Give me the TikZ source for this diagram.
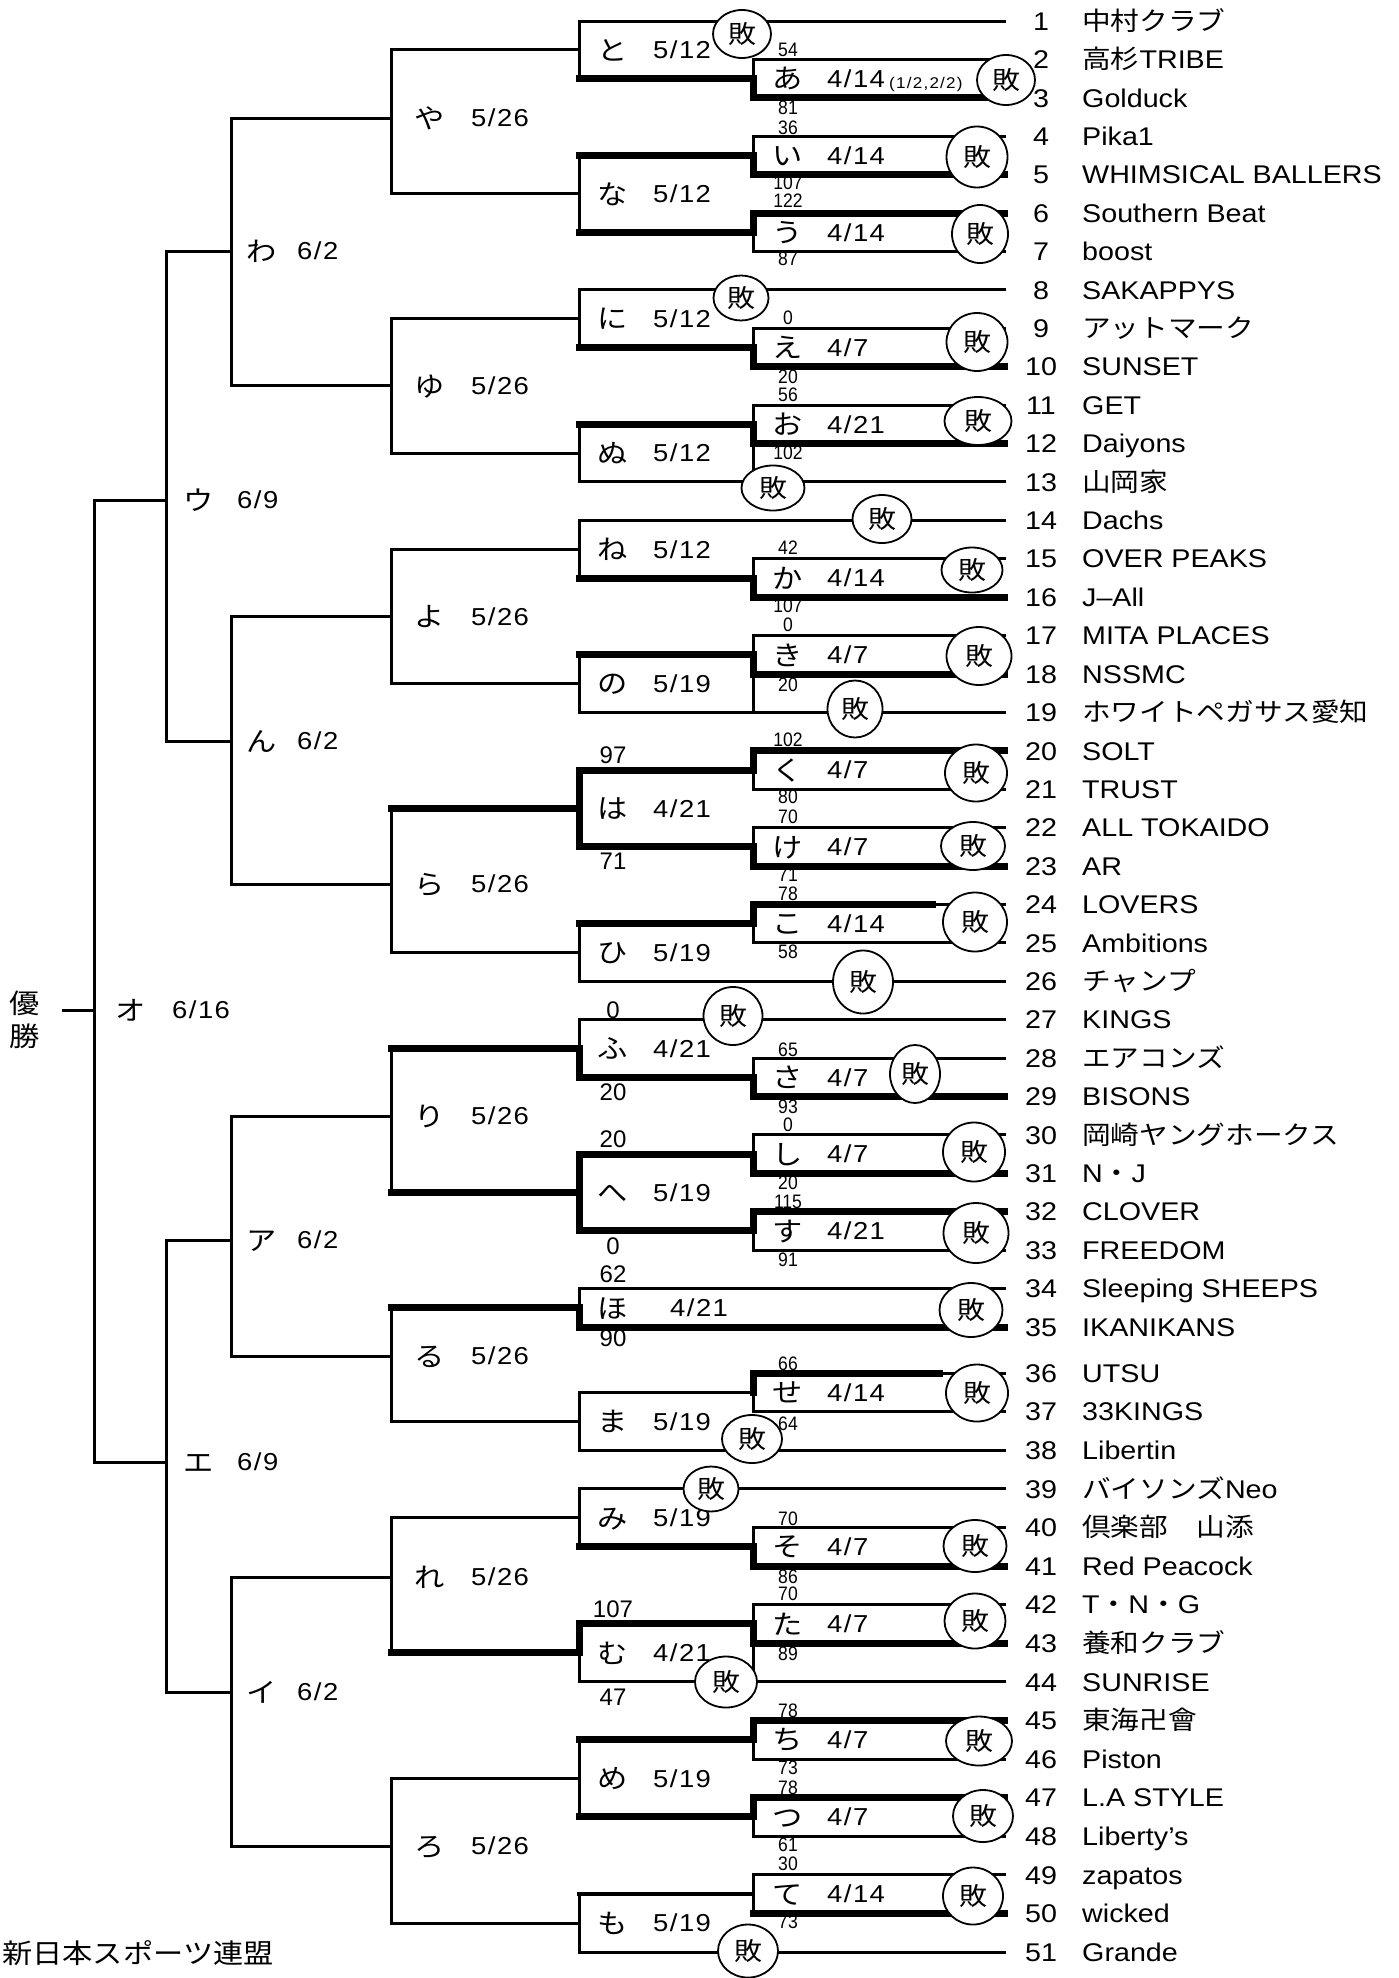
\documentclass[tikz,border=0pt]{standalone}
\usepackage{fontspec}
\setmainfont{Liberation Sans}[FakeStretch=1.12]
\newfontfamily\jp{Noto Sans CJK JP}[FakeStretch=1.12]
\newfontfamily\datef{Liberation Sans}[FakeStretch=1.12,LetterSpace=6]
\newfontfamily\scf{Liberation Sans}[FakeStretch=0.9]
\newfontfamily\sclf{Liberation Sans}
\newfontfamily\tinyf{Liberation Sans}[FakeStretch=1.1,LetterSpace=8]
\usetikzlibrary{shapes.geometric}
\tikzset{
 x=1pt, y=-1pt,
 lnthin/.style={line width=3pt, line join=miter, line cap=rect},
 lnthick/.style={line width=7pt, line join=miter, line cap=rect},
 lnmid/.style={line width=4.5pt, line cap=rect},
 lose/.style={ellipse, draw, line width=1.8pt, fill=white, inner sep=0pt, font={\jp\fontsize{25}{28}\selectfont}},
 numst/.style={anchor=base, inner sep=0pt, font={\fontsize{25.6}{28}\selectfont}},
 namest/.style={anchor=base west, inner sep=0pt, font={\fontsize{25.6}{28}\selectfont}},
 kanast/.style={anchor=base, inner sep=0pt, font={\jp\fontsize{27}{30}\selectfont}},
 datest/.style={anchor=base west, inner sep=0pt, font={\datef\fontsize{24.5}{28}\selectfont}},
 scs/.style={inner sep=0pt, font={\scf\fontsize{19.5}{21}\selectfont}},
 scl/.style={inner sep=0pt, font={\sclf\fontsize{24}{26}\selectfont}},
 bigjp/.style={inner sep=0pt, font={\jp\fontsize{27}{30}\selectfont}},
}
\newcommand\teamrow[3]{\node[numst] (n#1) at (1041,{#2+9.2}) {#1}; \node[namest] (t#1) at (1082,{#2+9.2}) {#3};}
\newcommand\matchlbl[6]{\node[kanast] (k#1) at (#2,{#4+10.2}) {#5}; \node[datest] (d#1) at (#3,{#4+8.8}) {#6};}
\newcommand\loss[5]{\node[lose, minimum width=#4pt, minimum height=#5pt] (#1) at (#2,#3) {敗};}
\begin{document}
\begin{tikzpicture}
\fill[white] (0,0) rectangle (1399,1978);
\useasboundingbox (0,0) rectangle (1399,1978);
% ---------- upper rounds (thin)
\draw[lnthin] (63,1010) -- (94,1010);
\draw[lnthin] (166,500) -- (94,500) -- (94,1462) -- (166,1462);
\draw[lnthin] (231,251) -- (166,251) -- (166,741) -- (231,741);
\draw[lnthin] (231,1240) -- (166,1240) -- (166,1692) -- (231,1692);
\draw[lnthin] (391,118) -- (231,118) -- (231,385.9) -- (391,385.9);
\draw[lnthin] (391,616.4) -- (231,616.4) -- (231,884) -- (391,884);
\draw[lnthin] (391,1116) -- (231,1116) -- (231,1356) -- (391,1356);
\draw[lnthin] (391,1577) -- (231,1577) -- (231,1846) -- (391,1846);
% C3
\draw[lnthin] (579,49.8) -- (391,49.8) -- (391,193.9) -- (579,193.9);
\draw[lnthin] (579,318.7) -- (391,318.7) -- (391,453.1) -- (579,453.1);
\draw[lnthin] (579,549.2) -- (391,549.2) -- (391,683.6) -- (579,683.6);
\draw[lnthin] (391,808.4) -- (391,952.5) -- (579,952.5);
\draw[lnthin] (391,1048.5) -- (391,1192.5);
\draw[lnthin] (391,1307.8) -- (391,1421.3) -- (579,1421.3);
\draw[lnthin] (579,1517.8) -- (391,1517.8) -- (391,1652.9);
\draw[lnthin] (579,1778.3) -- (391,1778.3) -- (391,1923.1) -- (579,1923.1);
% C2 thin
\draw[lnthin] (1004,21) -- (579,21) -- (579,78.6);
\draw[lnthin] (579,155.4) -- (579,232.3);
\draw[lnthin] (1004,289.9) -- (579,289.9) -- (579,347.5);
\draw[lnthin] (579,424.3) -- (579,481.9) -- (1004,481.9);
\draw[lnthin] (753,443.5) -- (753,481.9);
\draw[lnthin] (1004,520.3) -- (579,520.3) -- (579,578);
\draw[lnthin] (579,654.8) -- (579,712.4) -- (1004,712.4);
\draw[lnthin] (753,674) -- (753,712.4);
\draw[lnthin] (579,923.6) -- (579,981.3) -- (1004,981.3);
\draw[lnthin] (932,904.4) -- (1004,904.4);
\draw[lnthin] (1004,1019.7) -- (579,1019.7) -- (579,1048.5);
\draw[lnthin] (1004,1288.5) -- (579,1288.5) -- (579,1307.8);
\draw[lnthin] (753,1392.3) -- (579,1392.3) -- (579,1450.2) -- (1004,1450.2);
\draw[lnthin] (939,1373) -- (1004,1373);
\draw[lnthin] (1004,1488.8) -- (579,1488.8) -- (579,1546.7);
\draw[lnthin] (579,1652.9) -- (579,1681.8) -- (1004,1681.8);
\draw[lnthin] (753,1643.2) -- (753,1681.8);
\draw[lnthin] (579,1739.7) -- (579,1816.9);
\draw[lnthin] (579,1894.1) -- (579,1952) -- (1004,1952);
% C1 thin
\draw[lnthin] (1004,59.4) -- (753,59.4) -- (753,78.6);
\draw[lnthin] (1004,136.2) -- (753,136.2) -- (753,155.4);
\draw[lnthin] (753,232.3) -- (753,251.5) -- (1004,251.5);
\draw[lnthin] (1004,328.3) -- (753,328.3) -- (753,347.5);
\draw[lnthin] (1004,405.1) -- (753,405.1) -- (753,424.3);
\draw[lnthin] (1004,558.7) -- (753,558.7) -- (753,578);
\draw[lnthin] (1004,635.6) -- (753,635.6) -- (753,654.8);
\draw[lnthin] (753,770) -- (753,789.2) -- (1004,789.2);
\draw[lnthin] (1004,827.6) -- (753,827.6) -- (753,846.8);
\draw[lnthin] (753,923.6) -- (753,942.8) -- (1004,942.8);
\draw[lnthin] (1004,1058.1) -- (753,1058.1) -- (753,1077.3);
\draw[lnthin] (1004,1134.9) -- (753,1134.9) -- (753,1154.1);
\draw[lnthin] (753,1230.9) -- (753,1250.1) -- (1004,1250.1);
\draw[lnthin] (753,1392.3) -- (753,1411.6) -- (1004,1411.6);
\draw[lnthin] (1004,1527.4) -- (753,1527.4) -- (753,1546.7);
\draw[lnthin] (1004,1604.6) -- (753,1604.6) -- (753,1623.9);
\draw[lnthin] (753,1739.7) -- (753,1759) -- (1004,1759);
\draw[lnthin] (753,1816.9) -- (753,1836.2) -- (1004,1836.2);
\draw[lnthin] (1004,1874.8) -- (753,1874.8) -- (753,1913.4);
% ---------- thick (winner paths)
\draw[lnthick] (579,78.6) -- (753,78.6) -- (753,97.8) -- (1004,97.8);
\draw[lnthick] (579,155.4) -- (753,155.4) -- (753,174.6) -- (1004,174.6);
\draw[lnthick] (579,232.3) -- (753,232.3) -- (753,213.1) -- (1004,213.1);
\draw[lnthick] (579,347.5) -- (753,347.5) -- (753,366.7) -- (1004,366.7);
\draw[lnthick] (579,424.3) -- (753,424.3) -- (753,443.5) -- (1004,443.5);
\draw[lnthick] (579,578) -- (753,578) -- (753,597.2) -- (1004,597.2);
\draw[lnthick] (579,654.8) -- (753,654.8) -- (753,674) -- (1004,674);
\draw[lnthick] (1004,750.8) -- (753,750.8) -- (753,770) -- (579,770) -- (579,846.8) -- (753,846.8) -- (753,866) -- (1004,866);
\draw[lnthick] (391,808.4) -- (579,808.4);
\draw[lnthick] (579,923.6) -- (753,923.6) -- (753,904.4) -- (932,904.4);
\draw[lnthick] (391,1048.5) -- (579,1048.5) -- (579,1077.3) -- (753,1077.3) -- (753,1096.5) -- (1004,1096.5);
\draw[lnthick] (1004,1173.3) -- (753,1173.3) -- (753,1154.1) -- (579,1154.1) -- (579,1230.9) -- (753,1230.9) -- (753,1211.7) -- (1004,1211.7);
\draw[lnthick] (391,1192.5) -- (579,1192.5);
\draw[lnthick] (391,1307.8) -- (579,1307.8) -- (579,1327) -- (1004,1327);
\draw[lnthick] (753,1392.3) -- (753,1373) -- (939,1373);
\draw[lnthick] (579,1546.7) -- (753,1546.7) -- (753,1566) -- (1004,1566);
\draw[lnthick] (391,1652.9) -- (579,1652.9) -- (579,1623.9) -- (753,1623.9) -- (753,1643.2) -- (1004,1643.2);
\draw[lnthick] (1004,1720.4) -- (753,1720.4) -- (753,1739.7) -- (579,1739.7);
\draw[lnthick] (1004,1797.6) -- (753,1797.6) -- (753,1816.9) -- (579,1816.9);
\draw[lnthick] (753,1913.4) -- (1004,1913.4);
\draw[lnmid] (579,1894.1) -- (753,1894.1);
% ---------- match labels
\matchlbl{a}{788}{827}{78.6}{あ}{4/14}
\node[inner sep=0pt, anchor=west, font={\tinyf\fontsize{15.5}{17}\selectfont}] (asub) at (889,84) {(1/2,2/2)};
\matchlbl{i}{788}{827}{155.4}{い}{4/14}
\matchlbl{u}{788}{827}{232.3}{う}{4/14}
\matchlbl{e}{788}{827}{347.5}{え}{4/7}
\matchlbl{o}{788}{827}{424.3}{お}{4/21}
\matchlbl{ka}{788}{827}{578}{か}{4/14}
\matchlbl{ki}{788}{827}{654.8}{き}{4/7}
\matchlbl{ku}{788}{827}{770}{く}{4/7}
\matchlbl{ke}{788}{827}{846.8}{け}{4/7}
\matchlbl{ko}{788}{827}{923.6}{こ}{4/14}
\matchlbl{sa}{788}{827}{1077.3}{さ}{4/7}
\matchlbl{si}{788}{827}{1154.1}{し}{4/7}
\matchlbl{su}{788}{827}{1230.9}{す}{4/21}
\matchlbl{se}{788}{827}{1392.3}{せ}{4/14}
\matchlbl{so}{788}{827}{1546.7}{そ}{4/7}
\matchlbl{ta}{788}{827}{1623.9}{た}{4/7}
\matchlbl{ti}{788}{827}{1739.7}{ち}{4/7}
\matchlbl{tu}{788}{827}{1816.9}{つ}{4/7}
\matchlbl{te}{788}{827}{1894.1}{て}{4/14}
\matchlbl{to}{613}{653}{49.8}{と}{5/12}
\matchlbl{na}{613}{653}{193.9}{な}{5/12}
\matchlbl{ni}{613}{653}{318.7}{に}{5/12}
\matchlbl{nu}{613}{653}{453.1}{ぬ}{5/12}
\matchlbl{ne}{613}{653}{549.2}{ね}{5/12}
\matchlbl{no}{613}{653}{683.6}{の}{5/19}
\matchlbl{ha}{613}{653}{808.4}{は}{4/21}
\matchlbl{hi}{613}{653}{952.5}{ひ}{5/19}
\matchlbl{hu}{613}{653}{1048.5}{ふ}{4/21}
\matchlbl{he}{613}{653}{1192.5}{へ}{5/19}
\matchlbl{ho}{613}{670}{1307.8}{ほ}{4/21}
\matchlbl{ma}{613}{653}{1421.3}{ま}{5/19}
\matchlbl{mi}{613}{653}{1517.8}{み}{5/19}
\matchlbl{mu}{613}{653}{1652.9}{む}{4/21}
\matchlbl{me}{613}{653}{1778.3}{め}{5/19}
\matchlbl{mo}{613}{653}{1923.1}{も}{5/19}
\matchlbl{ya}{430}{471}{118}{や}{5/26}
\matchlbl{yu}{430}{471}{385.9}{ゆ}{5/26}
\matchlbl{yo}{430}{471}{616.4}{よ}{5/26}
\matchlbl{ra}{430}{471}{884}{ら}{5/26}
\matchlbl{ri}{430}{471}{1116}{り}{5/26}
\matchlbl{ru}{430}{471}{1356}{る}{5/26}
\matchlbl{re}{430}{471}{1577}{れ}{5/26}
\matchlbl{ro}{430}{471}{1846}{ろ}{5/26}
\matchlbl{wa}{262}{297}{251}{わ}{6/2}
\matchlbl{nn}{262}{297}{741}{ん}{6/2}
\matchlbl{KA}{262}{297}{1240}{ア}{6/2}
\matchlbl{KI}{262}{297}{1692}{イ}{6/2}
\matchlbl{KU}{199}{237}{500}{ウ}{6/9}
\matchlbl{KE}{199}{237}{1462}{エ}{6/9}
\matchlbl{KO}{131}{172}{1010}{オ}{6/16}
\node[bigjp, anchor=base] (yu1) at (25,1013.3) {優};
\node[bigjp, anchor=base] (yu2) at (25,1046.3) {勝};
\node[bigjp, anchor=base west] (org) at (2,1963) {新日本スポーツ連盟};
% ---------- losses
\loss{L1}{742}{34}{58}{48}
\loss{L2}{1006}{80}{58}{50}
\loss{L3}{977}{157}{61}{61}
\loss{L4}{980}{234}{56}{58}
\loss{L5}{741}{298}{55}{45}
\loss{L6}{977}{342}{61}{58}
\loss{L7}{978}{421}{67}{48}
\loss{L8}{773}{488}{63}{45}
\loss{L9}{882}{519}{59}{48}
\loss{L10}{972}{570}{61}{45}
\loss{L11}{979}{656}{65}{58}
\loss{L12}{855}{709}{55}{57}
\loss{L13}{976}{773}{62}{57}
\loss{L14}{973}{846}{64}{48}
\loss{L15}{975}{922}{64}{59}
\loss{L16}{863}{982}{60}{63}
\loss{L17}{733}{1016}{59}{58}
\loss{L18}{915}{1074}{50}{58}
\loss{L19}{974}{1152}{62}{59}
\loss{L20}{976}{1233}{65}{60}
\loss{L21}{971}{1310}{63}{54}
\loss{L22}{977}{1393}{62}{57}
\loss{L23}{752}{1439}{60}{48}
\loss{L24}{711}{1489}{55}{45}
\loss{L25}{975}{1546}{63}{52}
\loss{L26}{975}{1621}{61}{55}
\loss{L27}{726}{1682}{62}{51}
\loss{L28}{979}{1741}{66}{49}
\loss{L29}{983}{1816}{60}{52}
\loss{L30}{973}{1896}{60}{57}
\loss{L31}{748}{1951}{60}{53}
% ---------- scores
\node[scs] (s1) at (788,50) {54};
\node[scs] (s2) at (788,108) {81};
\node[scs] (s3) at (788,128) {36};
\node[scs] (s4) at (788,183) {107};
\node[scs] (s5) at (788,201) {122};
\node[scs] (s6) at (788,259) {87};
\node[scs] (s7) at (788,318) {0};
\node[scs] (s8) at (788,377) {20};
\node[scs] (s9) at (788,395) {56};
\node[scs] (s10) at (788,453) {102};
\node[scs] (s11) at (788,548) {42};
\node[scs] (s12) at (788,606) {107};
\node[scs] (s13) at (788,625) {0};
\node[scs] (s14) at (788,685) {20};
\node[scs] (s15) at (788,740) {102};
\node[scs] (s16) at (788,797) {80};
\node[scs] (s17) at (788,817) {70};
\node[scs] (s18) at (788,875) {71};
\node[scs] (s19) at (788,894) {78};
\node[scs] (s20) at (788,952) {58};
\node[scs] (s21) at (788,1050) {65};
\node[scs] (s22) at (788,1107) {93};
\node[scs] (s23) at (788,1125) {0};
\node[scs] (s24) at (788,1183) {20};
\node[scs] (s25) at (788,1202) {115};
\node[scs] (s26) at (788,1260) {91};
\node[scs] (s27) at (788,1364) {66};
\node[scs] (s28) at (788,1424) {64};
\node[scs] (s29) at (788,1519) {70};
\node[scs] (s30) at (788,1577) {86};
\node[scs] (s31) at (788,1594) {70};
\node[scs] (s32) at (788,1654) {89};
\node[scs] (s33) at (788,1711) {78};
\node[scs] (s34) at (788,1768) {73};
\node[scs] (s35) at (788,1788) {78};
\node[scs] (s36) at (788,1845) {61};
\node[scs] (s37) at (788,1864) {30};
\node[scs] (s38) at (788,1922) {73};
\node[scl] (S1) at (613,755) {97};
\node[scl] (S2) at (613,861) {71};
\node[scl] (S3) at (613,1010) {0};
\node[scl] (S4) at (613,1092) {20};
\node[scl] (S5) at (613,1139) {20};
\node[scl] (S6) at (613,1246) {0};
\node[scl] (S7) at (613,1274) {62};
\node[scl] (S8) at (613,1338) {90};
\node[scl] (S9) at (613,1609) {107};
\node[scl] (S10) at (613,1697) {47};
% ---------- teams
\teamrow{1}{21}{{\jp 中村クラブ}}
\teamrow{2}{59.4}{{\jp 高杉}TRIBE}
\teamrow{3}{97.8}{Golduck}
\teamrow{4}{136.2}{Pika1}
\teamrow{5}{174.6}{WHIMSICAL BALLERS}
\teamrow{6}{213.1}{Southern Beat}
\teamrow{7}{251.5}{boost}
\teamrow{8}{289.9}{SAKAPPYS}
\teamrow{9}{328.3}{{\jp アットマーク}}
\teamrow{10}{366.7}{SUNSET}
\teamrow{11}{405.1}{GET}
\teamrow{12}{443.5}{Daiyons}
\teamrow{13}{481.9}{{\jp 山岡家}}
\teamrow{14}{520.3}{Dachs}
\teamrow{15}{558.7}{OVER PEAKS}
\teamrow{16}{597.2}{J–All}
\teamrow{17}{635.6}{MITA PLACES}
\teamrow{18}{674}{NSSMC}
\teamrow{19}{712.4}{{\jp ホワイトペガサス愛知}}
\teamrow{20}{750.8}{SOLT}
\teamrow{21}{789.2}{TRUST}
\teamrow{22}{827.6}{ALL TOKAIDO}
\teamrow{23}{866}{AR}
\teamrow{24}{904.4}{LOVERS}
\teamrow{25}{942.8}{Ambitions}
\teamrow{26}{981.3}{{\jp チャンプ}}
\teamrow{27}{1019.7}{KINGS}
\teamrow{28}{1058.1}{{\jp エアコンズ}}
\teamrow{29}{1096.5}{BISONS}
\teamrow{30}{1134.9}{{\jp 岡崎ヤングホークス}}
\teamrow{31}{1173.3}{N{\jp ・}J}
\teamrow{32}{1211.7}{CLOVER}
\teamrow{33}{1250.1}{FREEDOM}
\teamrow{34}{1288.5}{Sleeping SHEEPS}
\teamrow{35}{1327}{IKANIKANS}
\teamrow{36}{1373}{UTSU}
\teamrow{37}{1411.6}{33KINGS}
\teamrow{38}{1450.2}{Libertin}
\teamrow{39}{1488.8}{{\jp バイソンズ}Neo}
\teamrow{40}{1527.4}{{\jp 倶楽部　山添}}
\teamrow{41}{1566}{Red Peacock}
\teamrow{42}{1604.6}{T{\jp ・}N{\jp ・}G}
\teamrow{43}{1643.2}{{\jp 養和クラブ}}
\teamrow{44}{1681.8}{SUNRISE}
\teamrow{45}{1720.4}{{\jp 東海卍會}}
\teamrow{46}{1759}{Piston}
\teamrow{47}{1797.6}{L.A STYLE}
\teamrow{48}{1836.2}{Liberty’s}
\teamrow{49}{1874.8}{zapatos}
\teamrow{50}{1913.4}{wicked}
\teamrow{51}{1952}{Grande}
\end{tikzpicture}
\end{document}
